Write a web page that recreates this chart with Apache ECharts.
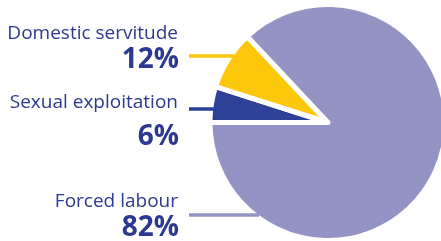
<!DOCTYPE html>
<html>
<head>
<meta charset="utf-8">
<script src="https://cdn.jsdelivr.net/npm/echarts@6/dist/echarts.min.js"></script>
<style>
html,body{margin:0;padding:0;background:#fff;}
#chart{width:441px;height:241px;}
</style>
</head>
<body>
<div id="chart"></div>
<script>
// Slice order drawn clockwise from the left horizontal
const categories = ['Sexual exploitation', 'Domestic servitude', 'Forced labour'];
// Slice sizes as drawn in the picture (angles)
const sliceValues = [4.9, 8.1, 87];
// Percent labels as printed
const percentLabels = ['6%', '12%', '82%'];
const colors = ['#2e4198', '#fdc70c', '#9494c4'];

// label placement (style only)
const labelPos = [
  { nameY: 102.5, pctY: 137.5, lineY: 109, lineX2: 216 },
  { nameY: 33.5, pctY: 60.5, lineY: 56, lineX2: 238 },
  { nameY: 202, pctY: 228.5, lineY: 215, lineX2: 259 }
];
const textColor = '#2b3990';
const graphics = [];
categories.forEach((c, i) => {
  const p = labelPos[i];
  graphics.push({
    type: 'text', x: 178, y: p.nameY,
    style: { text: c, fill: textColor, font: '19px "Open Sans"', align: 'right', verticalAlign: 'middle' }
  });
  graphics.push({
    type: 'text', x: 179, y: p.pctY,
    style: { text: percentLabels[i], fill: textColor, font: 'bold 28px "Open Sans"', align: 'right', verticalAlign: 'middle' }
  });
  graphics.push({
    type: 'line', z: 10,
    shape: { x1: 189, y1: p.lineY, x2: p.lineX2, y2: p.lineY },
    style: { stroke: colors[i], lineWidth: 3.5 }
  });
});

const chart = echarts.init(document.getElementById('chart'), null, { renderer: 'canvas' });
chart.setOption({
  animation: false,
  backgroundColor: '#fff',
  graphic: graphics,
  series: [{
    type: 'pie',
    z: 2,
    center: [328, 122.5],
    radius: 118,
    startAngle: 180,
    clockwise: true,
    label: { show: false },
    labelLine: { show: false },
    itemStyle: { borderColor: '#fff', borderWidth: 5 },
    data: categories.map((c, i) => ({ name: c, value: sliceValues[i], itemStyle: { color: colors[i] } }))
  }]
});
</script>
</body>
</html>
